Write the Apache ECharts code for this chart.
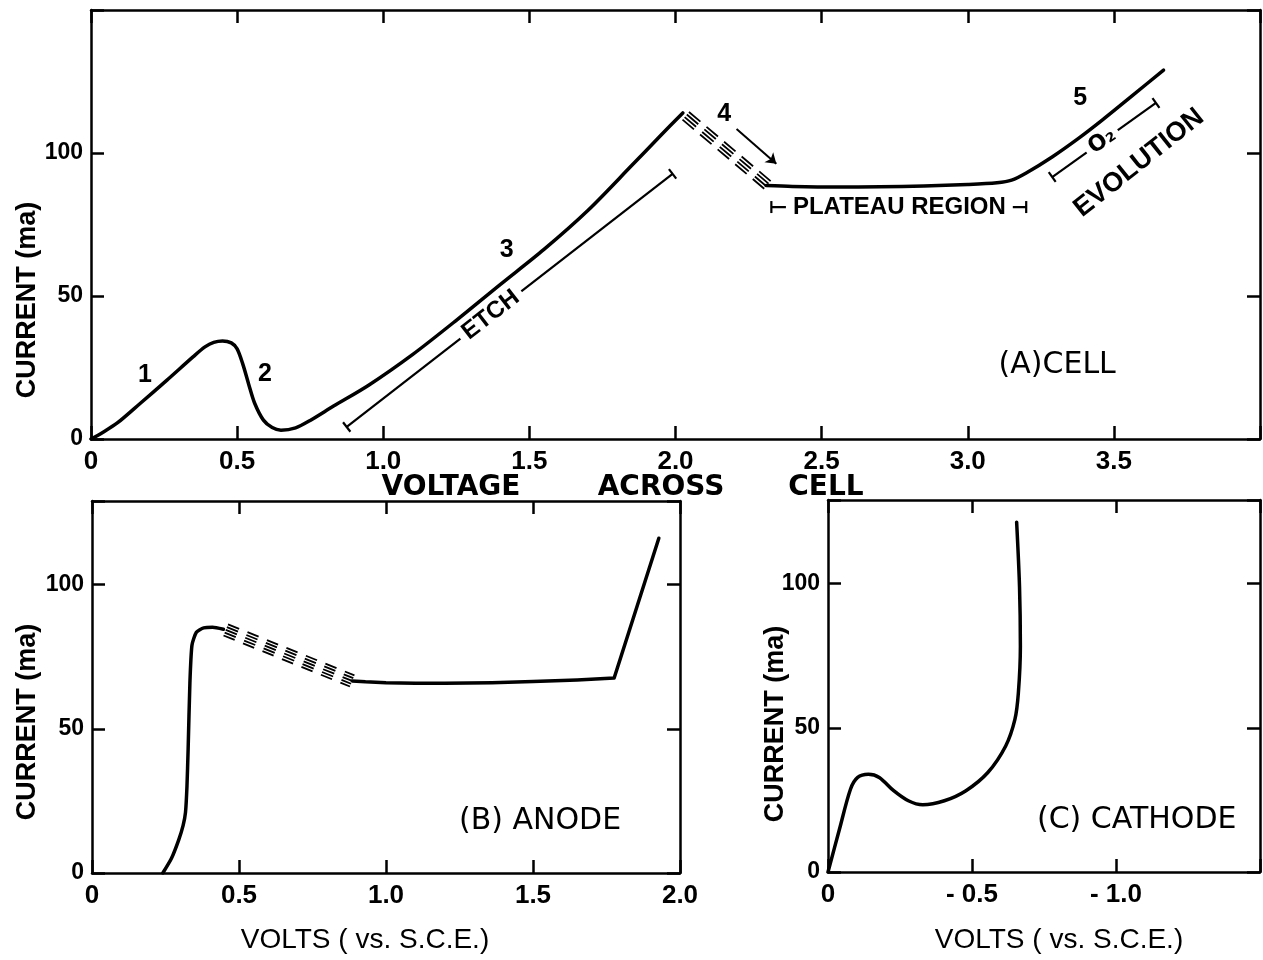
<!DOCTYPE html>
<html><head><meta charset="utf-8">
<script src="https://cdn.jsdelivr.net/npm/echarts@6/dist/echarts.min.js"></script>
<style>html,body{margin:0;padding:0;background:#fff}#c{width:1263px;height:960px}</style>
</head><body><div id="c"></div>
<script>
// ---------------- DATA ----------------
// (A) CELL: current (ma) vs voltage across cell (V)
const cellV = [0, 0.04, 0.09, 0.17, 0.26, 0.35, 0.39, 0.42, 0.45, 0.48, 0.50, 0.52, 0.54, 0.56, 0.59, 0.62, 0.65, 0.70, 0.75, 0.83, 0.95, 1.10, 1.25, 1.40, 1.55, 1.70, 1.85, 1.95, 2.025];
const cellI = [0, 2.3, 5.6, 12.6, 20.6, 28.8, 32.2, 33.8, 34.3, 33.6, 31.5, 26, 19, 12.5, 6.6, 4.0, 3.1, 3.9, 6.5, 11.5, 18.8, 29.5, 41.5, 54.0, 66.3, 79.9, 95.6, 106.2, 114];
const cellHatchV = [2.035, 2.315];
const cellHatchI = [113, 88.8];
const cellPlateauV = [2.31, 2.40, 2.55, 2.70, 2.85, 3.00, 3.10, 3.15, 3.20, 3.29, 3.38, 3.46, 3.56, 3.67];
const cellPlateauI = [88.6, 88.3, 88.1, 88.2, 88.5, 89.0, 89.6, 90.5, 93.0, 98.7, 105.2, 111.5, 119.8, 129];

// (B) ANODE: current (ma) vs volts vs S.C.E.
const anodeRiseV = [0.241, 0.27, 0.295, 0.31, 0.318, 0.323, 0.327, 0.333, 0.34, 0.355, 0.38, 0.41, 0.447];
const anodeRiseI = [0, 5, 11.5, 16.5, 21, 30, 43, 66, 79, 83.5, 85, 85.2, 84.5];
const anodeHatchV = [0.455, 0.885];
const anodeHatchI = [84.3, 66.6];
const anodePlateauV = [0.885, 0.93, 1.0, 1.1, 1.2, 1.36, 1.5, 1.65, 1.776, 1.928];
const anodePlateauI = [66.6, 66.3, 66.0, 65.8, 65.8, 66.0, 66.4, 66.9, 67.6, 116.1];

// (C) CATHODE: current (ma) vs volts vs S.C.E.
const cathodeV = [0, -0.04, -0.078, -0.103, -0.14, -0.178, -0.228, -0.279, -0.329, -0.404, -0.479, -0.555, -0.617, -0.649, -0.661, -0.668, -0.665, -0.655];
const cathodeI = [0, 14.9, 28.7, 32.8, 33.9, 32.8, 28.2, 24.7, 23.3, 24.7, 28.2, 34.5, 43.7, 52.9, 62.1, 78.2, 98.9, 121.3];

// tick labels
const xTicksA = ['0', '0.5', '1.0', '1.5', '2.0', '2.5', '3.0', '3.5'];
const xTicksB = ['0', '0.5', '1.0', '1.5', '2.0'];
const xTicksC = ['0', '- 0.5', '- 1.0'];
const yTicks = ['0', '50', '100'];

// annotations (positions in data units)
const etchBracket = [[0.875, 4.2], [1.99, 92.7]];
const plateauBracket = [[2.328, 81.1], [3.20, 81.1]];
const o2Bracket = [[3.289, 91.6], [3.644, 117.5]];
const arrow4 = [[2.209, 108.4], [2.345, 96.2]];
const notesA = [
  {t: '1', x: 0.185, y: 22.5}, {t: '2', x: 0.595, y: 22.8}, {t: '3', x: 1.422, y: 66.2},
  {t: '4', x: 2.167, y: 113.6}, {t: '5', x: 3.385, y: 119.2}
];

// ---------------- LAYOUT ----------------
const GRIDS = [
  {left: 91, top: 10, width: 1171, height: 429, xMin: 0, xMax: 4, yMax: 150, inverse: false, xTicks: xTicksA},
  {left: 92, top: 501, width: 588, height: 372, xMin: 0, xMax: 2, yMax: 129, inverse: false, xTicks: xTicksB},
  {left: 828, top: 500, width: 438, height: 372, xMin: -1.5, xMax: 0, yMax: 129, inverse: true, xTicks: xTicksC}
];
const zip = (xs, ys) => xs.map((x, i) => [x, ys[i]]);
function sc(gi) { const g = GRIDS[gi]; return {sx: g.width / (g.xMax - g.xMin) * (g.inverse ? -1 : 1), sy: g.height / g.yMax}; }
function toData(gi, ux, uy) { const s = sc(gi); return [ux / s.sx, -uy / s.sy]; }
function toScr(gi, dx, dy) { const s = sc(gi); return [dx * s.sx, -dy * s.sy]; }
function normalAt(gi, a, b) { const t = toScr(gi, b[0] - a[0], b[1] - a[1]); const L = Math.hypot(t[0], t[1]); return [-t[1] / L, t[0] / L]; }
function offsetPath(gi, pts, k) {
  return pts.map((p, i) => {
    const a = pts[Math.max(0, i - 1)], b = pts[Math.min(pts.length - 1, i + 1)];
    const n = normalAt(gi, a, b); const d = toData(gi, n[0] * k, n[1] * k);
    return [p[0] + d[0], p[1] + d[1]];
  });
}
function capAt(gi, p, q, h) {
  const n = normalAt(gi, p, q); const d = toData(gi, n[0] * h, n[1] * h);
  return [[p[0] + d[0], p[1] + d[1]], [p[0] - d[0], p[1] - d[1]]];
}
function tickFmt(list, step) {
  return v => { const k = Math.round(Math.abs(v) / step); return (Math.abs(Math.abs(v) - k * step) < 1e-6 && k < list.length) ? list[k] : ''; };
}

const AX = {color: '#000', width: 2.5};
const xAxes = [], yAxes = [], grids = [];
GRIDS.forEach((g, gi) => {
  grids.push({left: g.left, top: g.top, width: g.width, height: g.height, containLabel: false});
  const base = {type: 'value', gridIndex: gi, min: g.xMin, max: g.xMax, interval: 0.5, inverse: g.inverse,
    splitLine: {show: false}, axisLine: {show: true, onZero: false, lineStyle: AX},
    axisTick: {show: true, inside: true, length: 13, lineStyle: AX}};
  xAxes.push(Object.assign({}, base, {position: 'bottom',
    axisLabel: {show: true, formatter: tickFmt(g.xTicks, 0.5), color: '#000', fontFamily: 'Liberation Sans', fontWeight: 'bold', fontSize: 26, margin: 10}}));
  xAxes.push(Object.assign({}, base, {position: 'top', axisLabel: {show: false}}));
  const ybase = {type: 'value', gridIndex: gi, min: 0, max: g.yMax, interval: 50,
    splitLine: {show: false}, axisLine: {show: true, onZero: false, lineStyle: AX},
    axisTick: {show: true, inside: true, length: 13, lineStyle: AX}};
  yAxes.push(Object.assign({}, ybase, {position: 'left',
    axisLabel: {show: true, formatter: tickFmt(yTicks, 50), color: '#000', fontFamily: 'Liberation Sans', fontWeight: 'bold', fontSize: 23, margin: 8}}));
  yAxes.push(Object.assign({}, ybase, {position: 'right', axisLabel: {show: false}}));
});

const series = [];
function line(gi, data, o) {
  o = o || {};
  series.push({type: 'line', xAxisIndex: 2 * gi, yAxisIndex: 2 * gi, data: data, symbol: 'none', showSymbol: false,
    smooth: o.smooth || false, silent: true, z: o.z || 3,
    lineStyle: {color: '#000', width: o.width || 3.5, type: o.type || 'solid', cap: o.cap || 'round', join: 'round'}});
}
function hatch(gi, pts, offs, dash) {
  offs.forEach(k => line(gi, offsetPath(gi, pts, k), {width: 1.8, type: dash, cap: 'butt'}));
}
function bracket(gi, ends, h) {
  line(gi, ends, {width: 2.2, cap: 'butt'});
  line(gi, capAt(gi, ends[0], ends[1], h), {width: 2.2, cap: 'butt'});
  line(gi, capAt(gi, ends[1], ends[0], h), {width: 2.2, cap: 'butt'});
}
function texts(gi, items) {
  series.push({type: 'scatter', xAxisIndex: 2 * gi, yAxisIndex: 2 * gi, symbolSize: 1, silent: true, z: 10,
    itemStyle: {color: 'rgba(0,0,0,0)', opacity: 1},
    data: items.map(it => ({value: [it.x, it.y], label: {show: true, position: 'inside', formatter: it.t, opacity: 1,
      rotate: it.rot || 0, color: '#000', fontFamily: it.ff || 'Liberation Sans', fontSize: it.fs || 24,
      fontWeight: it.fw || 'bold', backgroundColor: it.bg ? '#fff' : 'transparent', padding: it.pad || 0}}))});
}

// (A)
line(0, zip(cellV, cellI), {smooth: 0.3});
hatch(0, zip(cellHatchV, cellHatchI), [-5, -1.7, 1.7, 5], [15, 8]);
line(0, zip(cellPlateauV, cellPlateauI), {smooth: 0.3});
bracket(0, etchBracket, 6);
bracket(0, plateauBracket, 6);
bracket(0, o2Bracket, 6);
series.push({type: 'lines', coordinateSystem: 'cartesian2d', xAxisIndex: 0, yAxisIndex: 0, silent: true, z: 4,
  symbol: ['none', 'arrow'], symbolSize: 10, lineStyle: {color: '#000', width: 2, opacity: 1},
  data: [{coords: arrow4}]});
texts(0, notesA.map(n => ({t: n.t, x: n.x, y: n.y, fs: 25})).concat([
  {t: 'ETCH', x: 1.368, y: 43.4, rot: 37.8, fs: 24, bg: true, pad: [0, 6]},
  {t: 'PLATEAU REGION', x: 2.766, y: 81.1, fs: 24, bg: true, pad: [0, 7]},
  {t: 'O₂', x: 3.46, y: 104.1, rot: 35.4, fs: 22, ff: 'DejaVu Sans', bg: true, pad: [0, 5]},
  {t: 'EVOLUTION', x: 3.586, y: 96.5, rot: 38.4, fs: 27},
  {t: '(A)CELL', x: 3.306, y: 25.9, fs: 30, ff: 'DejaVu Sans', fw: 'normal'}
]));

// (B)
line(1, zip(anodeRiseV, anodeRiseI), {smooth: 0.2});
hatch(1, zip(anodeHatchV, anodeHatchI), [-6, -3, 0, 3, 6], [12, 9]);
line(1, zip(anodePlateauV, anodePlateauI), {});
texts(1, [{t: '(B) ANODE', x: 1.524, y: 18.0, fs: 30, ff: 'DejaVu Sans', fw: 'normal'}]);

// (C)
line(2, zip(cathodeV, cathodeI), {smooth: 0.3});
texts(2, [{t: '(C) CATHODE', x: -1.072, y: 18.0, fs: 30, ff: 'DejaVu Sans', fw: 'normal'}]);

function gtext(x, y, text, font, rot) {
  return {type: 'text', x: x, y: y, rotation: rot || 0, silent: true,
    style: {text: text, font: font, fill: '#000', align: 'center', verticalAlign: 'middle', textAlign: 'center', textVerticalAlign: 'middle'}};
}
const titleFont = 'bold 27px "Liberation Sans"';
const option = {
  animation: false,
  backgroundColor: '#fff',
  grid: grids, xAxis: xAxes, yAxis: yAxes, series: series,
  graphic: [
    gtext(28, 300, 'CURRENT (ma)', titleFont, Math.PI / 2),
    gtext(28, 722, 'CURRENT (ma)', titleFont, Math.PI / 2),
    gtext(776, 724, 'CURRENT (ma)', titleFont, Math.PI / 2),
    gtext(451, 488, 'VOLTAGE', 'bold 28px "DejaVu Sans"'),
    gtext(661, 488, 'ACROSS', 'bold 28px "DejaVu Sans"'),
    gtext(826, 488, 'CELL', 'bold 28px "DejaVu Sans"'),
    gtext(365, 940, 'VOLTS ( vs. S.C.E.)', '28px "Liberation Sans"'),
    gtext(1059, 940, 'VOLTS ( vs. S.C.E.)', '28px "Liberation Sans"')
  ]
};
const chart = echarts.init(document.getElementById('c'), null, {renderer: 'canvas'});
chart.setOption(option);
</script></body></html>
